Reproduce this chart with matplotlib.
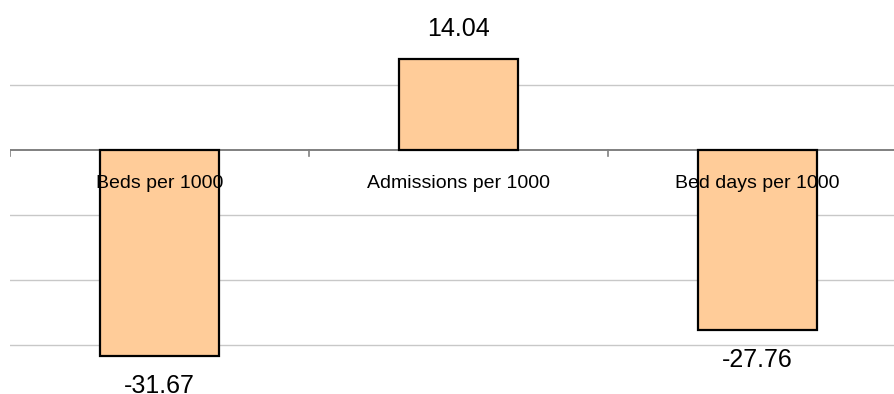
import matplotlib
matplotlib.use('Agg')
import matplotlib.pyplot as plt
import numpy as np

plt.rcParams['font.family'] = ['Liberation Sans', 'DejaVu Sans']

categories = ['Beds per 1000', 'Admissions per 1000', 'Bed days per 1000']
values = [-31.67, 14.04, -27.76]
grid_levels = [-30, -20, -10, 10]

fig = plt.figure(figsize=(8.95, 3.94), dpi=100)
# axes starts 10px in and runs past the right edge (last category clipped)
ax = fig.add_axes([10 / 895, 0, 897 / 895, 1])
ax.set_xlim(-0.5, 2.5)
ax.set_ylim(-37.54, 23.08)

x = np.arange(len(categories))

# light gridlines + darker zero axis
for g in grid_levels:
    ax.axhline(g, color='#c8c8c8', lw=1.0, zorder=0)
ax.axhline(0, color='#808080', lw=1.4, zorder=1)

ax.bar(x, values, width=0.4, color='#ffcc99', edgecolor='black',
       linewidth=1.6, zorder=2)

# tick marks at category boundaries
ax.set_xticks(np.arange(-0.5, 2.5, 1.0))
ax.set_xticklabels([])
ax.tick_params(axis='x', direction='out', length=0)
for b in np.arange(-0.5, 2.5, 1.0):
    ax.plot([b, b], [0, -0.9], color='#808080', lw=1.2, zorder=1)

ax.set_yticks([])
for s in ax.spines.values():
    s.set_visible(False)

# category labels just under the zero line
for xi, name in zip(x, categories):
    ax.text(xi, -5.1, name, ha='center', va='center', fontsize=14,
            color='black', zorder=3)

# value labels outside the bar ends
for xi, v in zip(x, values):
    off = 21.6 if v > 0 else -21.6
    ax.annotate(f'{v:.2f}', (xi, v), xytext=(0, off), textcoords='offset points',
                ha='center', va='center', fontsize=18, color='black')

fig.savefig('out.png', dpi=100)
